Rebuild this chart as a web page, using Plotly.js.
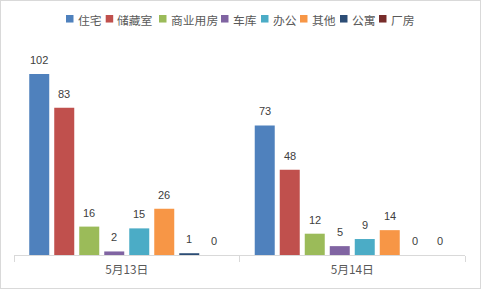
<!DOCTYPE html>
<html>
<head>
<meta charset="utf-8">
<script src="https://cdn.plot.ly/plotly-3.0.1.min.js"></script>
<style>
  html, body { margin: 0; padding: 0; background: #fff; }
  #chart { position: absolute; left: 0; top: 0; width: 481px; height: 289px; }
  #frame { position: absolute; left: 0; top: 0; width: 481px; height: 289px; box-sizing: border-box;
           border: 1px solid #d9d9d9; pointer-events: none; }
</style>
</head>
<body>
<div id="chart"></div>
<div id="frame"></div>
<script>
// ---- data ----
const categories = ["5月13日", "5月14日"];
const seriesNames = ["住宅", "储藏室", "商业用房", "车库", "办公", "其他", "公寓", "厂房"];
const seriesColors = ["#4F81BD", "#C0504D", "#9BBB59", "#8064A2", "#4BACC6", "#F79646", "#2C4D75", "#772C2A"];
const zhuzhai   = [102, 73];
const chucangshi = [83, 48];
const shangye   = [16, 12];
const cheku     = [2, 5];
const bangong   = [15, 9];
const qita      = [26, 14];
const gongyu    = [1, 0];
const changfang = [0, 0];
const seriesValues = [zhuzhai, chucangshi, shangye, cheku, bangong, qita, gongyu, changfang];

// ---- layout geometry (pixels) ----
const W = 481, H = 289;
const mL = 14, mR = 16, mB = 34, mT = 42.2;
const plotW = W - mL - mR, plotH = H - mT - mB;
const yMax = 120;
const slotPx = 25;
const legendSquareX = [66, 105.7, 159, 221, 261, 300, 340, 379];
const legendY = 19;

const pxToPaperX = px => (px - mL) / plotW;
const pxToPaperY = py => (H - mB - py) / plotH;

const traces = seriesNames.map((name, i) => ({
  type: "bar",
  name: name,
  x: categories,
  y: seriesValues[i],
  marker: { color: seriesColors[i] },
  hoverinfo: "none"
}));

const annotations = [];
const shapes = [];
const nS = seriesNames.length;
seriesValues.forEach((vals, i) => {
  vals.forEach((v, j) => {
    annotations.push({
      x: categories[j], y: v, xref: "x", yref: "y",
      text: String(v), showarrow: false,
      xshift: (i - (nS - 1) / 2) * slotPx, yshift: 14,
      xanchor: "center", yanchor: "middle",
      font: { family: "Liberation Sans, Arial, sans-serif", size: 11, color: "#404040" }
    });
  });
});

seriesNames.forEach((name, i) => {
  const sx = legendSquareX[i];
  shapes.push({
    type: "rect", xref: "paper", yref: "paper",
    x0: pxToPaperX(sx), x1: pxToPaperX(sx + 7.5),
    y0: pxToPaperY(legendY - 3.75), y1: pxToPaperY(legendY + 3.75),
    fillcolor: seriesColors[i], line: { width: 0 }
  });
  annotations.push({
    xref: "paper", yref: "paper",
    x: pxToPaperX(sx + 10.5), y: pxToPaperY(legendY + 0.5),
    xanchor: "left", yanchor: "middle", showarrow: false,
    text: name, borderpad: 0,
    font: { family: "Noto Sans CJK SC, sans-serif", size: 11.8, color: "#595959" }
  });
});

const layout = {
  width: W, height: H,
  margin: { l: mL, r: mR, t: mT, b: mB, pad: 0 },
  paper_bgcolor: "rgba(0,0,0,0)",
  plot_bgcolor: "rgba(0,0,0,0)",
  barmode: "group",
  bargap: 0.113,
  bargroupgap: 0.2,
  showlegend: false,
  xaxis: {
    type: "category",
    showline: true, linecolor: "#d9d9d9", linewidth: 1,
    ticks: "outside", tickson: "boundaries", ticklen: 6, tickcolor: "#d9d9d9", tickwidth: 1,
    ticklabelstandoff: 4,
    showgrid: false, zeroline: false,
    tickfont: { family: "Noto Sans CJK SC, sans-serif", size: 11.8, color: "#595959" },
    fixedrange: true
  },
  yaxis: {
    range: [0, yMax], visible: false, showgrid: false, zeroline: false, fixedrange: true
  },
  annotations: annotations,
  shapes: shapes
};

Plotly.newPlot("chart", traces, layout, { displayModeBar: false, staticPlot: true });
</script>
</body>
</html>
